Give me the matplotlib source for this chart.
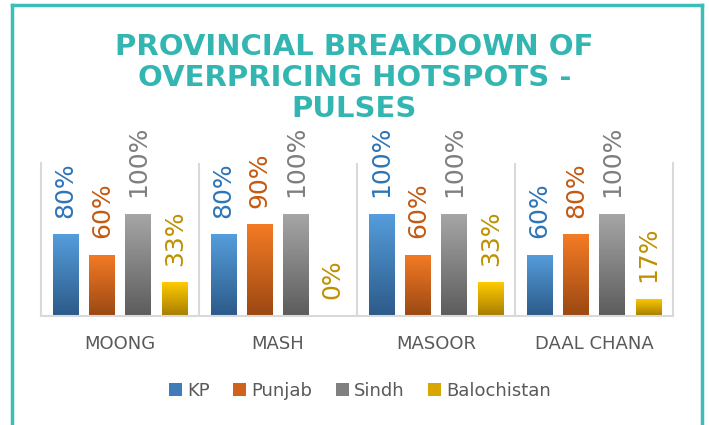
import numpy as np
import matplotlib.pyplot as plt
from matplotlib.patches import Patch
from matplotlib.lines import Line2D
from matplotlib.colors import LinearSegmentedColormap

categories = ['MOONG', 'MASH', 'MASOOR', 'DAAL CHANA']
provinces = ['KP', 'Punjab', 'Sindh', 'Balochistan']
kp = [0.80, 0.80, 1.00, 0.60]
punjab = [0.60, 0.90, 0.60, 0.80]
sindh = [1.00, 1.00, 1.00, 1.00]
balochistan = [0.33, 0.00, 0.33, 0.17]
label_text = [['80%', '80%', '100%', '60%'],
              ['60%', '90%', '60%', '80%'],
              ['100%', '100%', '100%', '100%'],
              ['33%', '0%', '33%', '17%']]

# (top colour, bottom colour, label colour, legend colour)
styles = [('#559DDC', '#2C5A88', '#2E75B6', '#3F7CB8'),
          ('#F57B25', '#9A4813', '#C55A11', '#D0621C'),
          ('#A6A6A6', '#5C5C5C', '#7F7F7F', '#808080'),
          ('#FFCB00', '#A67C00', '#BF9000', '#D9A600')]

TEAL = '#33B6B2'
GREY_TXT = '#595959'

fig = plt.figure(figsize=(7.09, 4.25), dpi=100)
ax = fig.add_axes([41/709, 1-316/425, (673-41)/709, (316-163)/425])

x = np.arange(len(categories))
offsets = [-0.346, -0.115, 0.115, 0.346]
width = 0.162
series = [kp, punjab, sindh, balochistan]

grad = np.linspace(0, 1, 256).reshape(-1, 1)
for i, vals in enumerate(series):
    top, bot, lc, _ = styles[i]
    cmap = LinearSegmentedColormap.from_list(f'g{i}', [bot, top])
    bars = ax.bar(x + offsets[i], vals, width, color=top, zorder=2)
    for b, v, t in zip(bars, vals, label_text[i]):
        if v > 0:
            # vertical gradient fill clipped to the bar
            b.set_facecolor('none')
            im = ax.imshow(grad, cmap=cmap, origin='lower', aspect='auto',
                           extent=[b.get_x(), b.get_x() + b.get_width(), 0, v],
                           zorder=2)
            im.set_clip_path(b)
        ax.annotate(t, xy=(b.get_x() + b.get_width()/2, v), xytext=(0, 12),
                    textcoords='offset points', rotation=90, ha='center',
                    va='bottom', fontsize=18, color=lc, annotation_clip=False)

ax.set_xlim(-0.5, 3.5)
ax.set_ylim(0, 1.5)
ax.set_yticks([])
ax.set_xticks(x)
ax.set_xticklabels(categories, fontsize=13, color=GREY_TXT)
ax.tick_params(axis='x', length=0, pad=14)
ax.spines['top'].set_visible(False)
for s in ['left', 'right', 'bottom']:
    ax.spines[s].set_color('#D9D9D9')
    ax.spines[s].set_linewidth(1.5)
for xv in [0.5, 1.5, 2.5]:
    ax.axvline(xv, color='#D9D9D9', lw=1.5, zorder=1)

fig.text(0.5, 1-78/425, 'PROVINCIAL BREAKDOWN OF\nOVERPRICING HOTSPOTS -\nPULSES',
         ha='center', va='center', fontsize=21, fontweight='bold',
         color=TEAL, linespacing=1.15)

handles = [Patch(facecolor=s[3], edgecolor='none') for s in styles]
fig.legend(handles, provinces, loc='center', bbox_to_anchor=(360/709, 1-391/425),
           ncol=4, frameon=False, fontsize=13, labelcolor=GREY_TXT,
           handlelength=0.7, handleheight=0.7, handletextpad=0.3,
           columnspacing=1.3)

# frame around the chart
for xs, ys in [([12/709, 12/709], [-0.1, 1-5/425]),
               ([12/709, 702/709], [1-5/425, 1-5/425]),
               ([702/709, 702/709], [1-5/425, -0.1])]:
    fig.add_artist(Line2D(xs, ys, color='#3BBDB8', lw=2.5,
                          transform=fig.transFigure))

fig.savefig('out.png', dpi=100, facecolor='white')
